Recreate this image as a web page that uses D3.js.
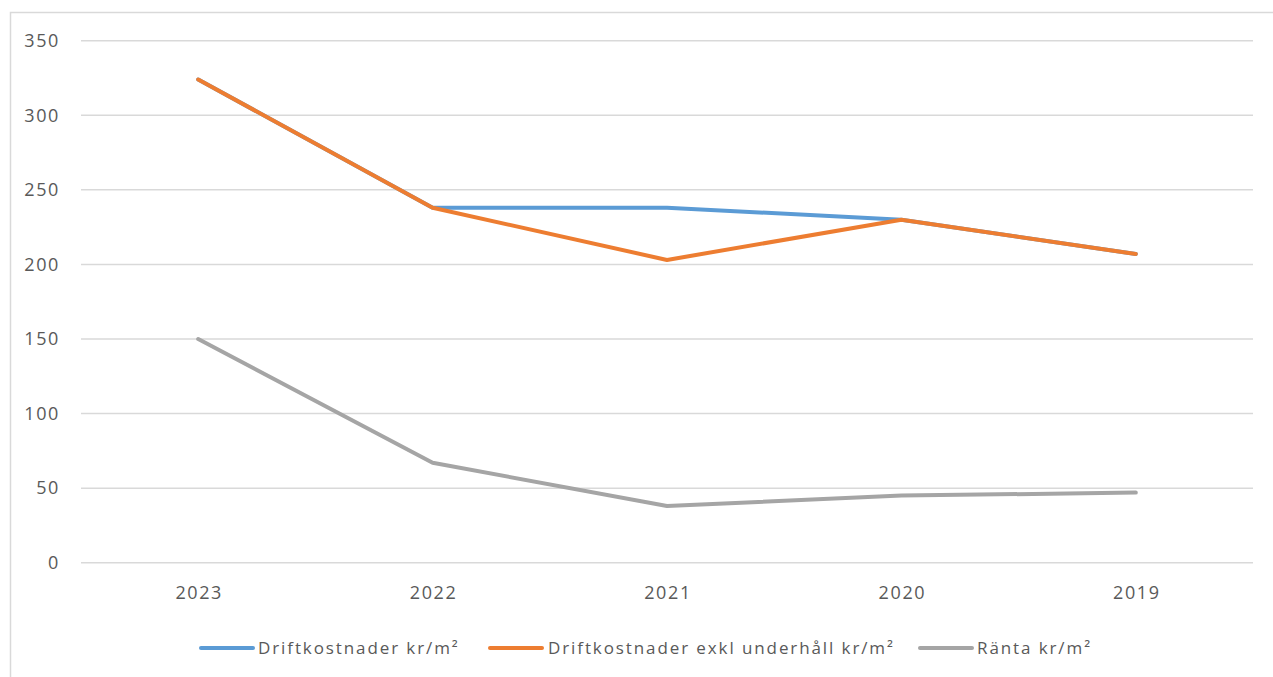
<!DOCTYPE html>
<html>
<head>
<meta charset="utf-8">
<script src="https://cdn.jsdelivr.net/npm/d3@7/dist/d3.min.js"></script>
<style>
  html, body { margin: 0; padding: 0; background: #fff; }
  svg { display: block; }
  text { font-family: "Open Sans", "Liberation Sans", sans-serif; fill: #595959; }
</style>
</head>
<body>
<svg id="chart" width="1273" height="677"></svg>
<script>
// Years on the category axis (newest first)
const years = ["2023", "2022", "2021", "2020", "2019"];

// Series values, kr/m²
const driftkostnader = [324, 238, 238, 230, 207];
const driftkostnaderExklUnderhall = [324, 238, 203, 230, 207];
const ranta = [150, 67, 38, 45, 47];

// Y axis ticks
const yTicks = [0, 50, 100, 150, 200, 250, 300, 350];

const seriesNames = ["Driftkostnader kr/m²", "Driftkostnader exkl underhåll kr/m²", "Ränta kr/m²"];
const seriesColors = ["#5B9BD5", "#ED7D31", "#A5A5A5"];

const series = [driftkostnader, driftkostnaderExklUnderhall, ranta].map((vals, i) => ({
  name: seriesNames[i],
  color: seriesColors[i],
  values: vals.map((v, j) => ({ year: years[j], value: v }))
}));

const svg = d3.select("#chart");

// Outer chart frame
svg.append("rect")
  .attr("x", 10.5).attr("y", 12.5)
  .attr("width", 1275).attr("height", 680)
  .attr("fill", "#fff").attr("stroke", "#D9D9D9").attr("stroke-width", 1.5);

const plot = { left: 81, right: 1253, top: 40.7, bottom: 562.7 };

const x = d3.scaleBand().domain(years).range([plot.left, plot.right]);
const y = d3.scaleLinear().domain([0, 350]).range([plot.bottom, plot.top]);

// Horizontal gridlines
svg.append("g")
  .selectAll("line")
  .data(yTicks)
  .join("line")
  .attr("x1", plot.left).attr("x2", plot.right)
  .attr("y1", d => y(d)).attr("y2", d => y(d))
  .attr("stroke", "#D9D9D9").attr("stroke-width", 1.5);

const tickFont = g => g.selectAll("text")
  .attr("font-size", 18)
  .attr("fill", "#595959")
  .style("font-family", '"Open Sans", sans-serif')
  .style("letter-spacing", "1.6px");

// Y axis labels
const yAxis = d3.axisLeft(y).tickValues(yTicks).tickSize(0).tickPadding(0);
const gy = svg.append("g").attr("transform", "translate(60,0)").call(yAxis);
gy.select(".domain").remove();
gy.call(tickFont);

// X axis labels
const xAxis = d3.axisBottom(x).tickSize(0).tickPadding(0);
const gx = svg.append("g").attr("transform", "translate(1,586)").call(xAxis);
gx.select(".domain").remove();
gx.call(tickFont);

// Lines
const line = d3.line()
  .x(d => x(d.year) + x.bandwidth() / 2)
  .y(d => y(d.value));

svg.append("g")
  .selectAll("path")
  .data(series)
  .join("path")
  .attr("d", d => line(d.values))
  .attr("fill", "none")
  .attr("stroke", d => d.color)
  .attr("stroke-width", 4)
  .attr("stroke-linejoin", "round")
  .attr("stroke-linecap", "round");

// Legend
const legendY = 648;
const legendItems = [
  { x: 201, textX: 258 },
  { x: 490, textX: 548 },
  { x: 920, textX: 977 }
];
const lg = svg.append("g");
series.forEach((s, i) => {
  const it = legendItems[i];
  lg.append("line")
    .attr("x1", it.x).attr("x2", it.x + 52)
    .attr("y1", legendY).attr("y2", legendY)
    .attr("stroke", s.color).attr("stroke-width", 4)
    .attr("stroke-linecap", "round");
  lg.append("text")
    .attr("x", it.textX).attr("y", legendY)
    .attr("dy", "0.35em")
    .attr("font-size", 17)
    .style("letter-spacing", "1.9px")
    .text(s.name);
});
</script>
</body>
</html>
